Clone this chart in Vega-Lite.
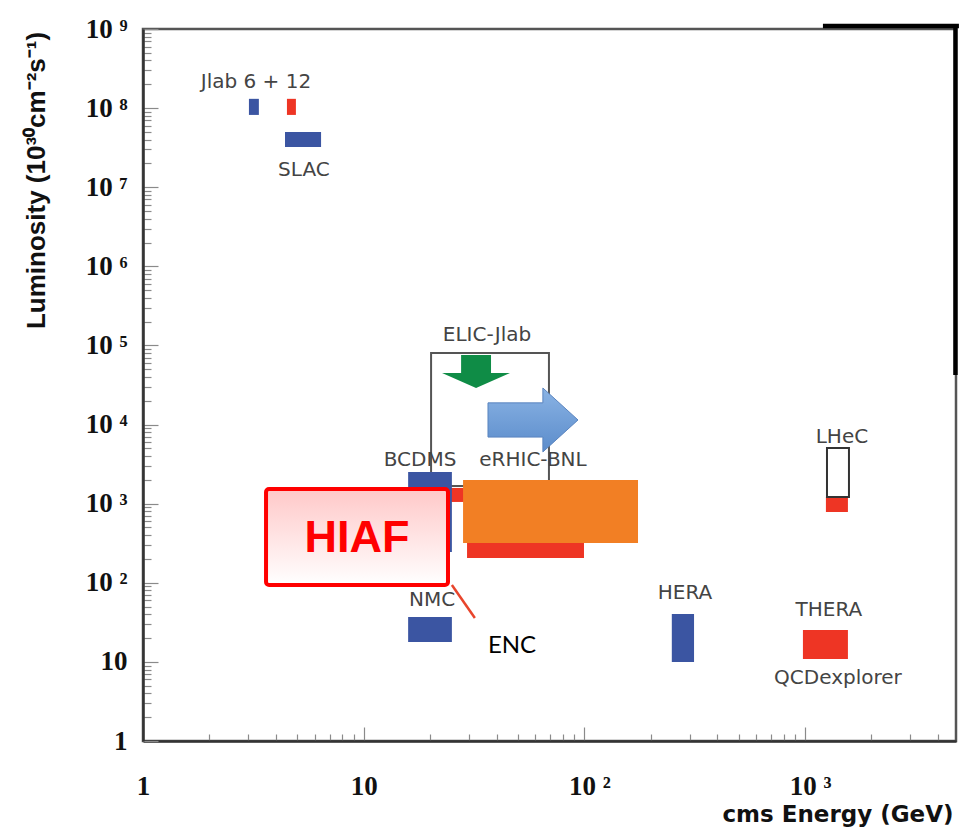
{
  "$schema": "https://vega.github.io/schema/vega-lite/v6.json",
  "width": 813,
  "height": 712,
  "autosize": {"type": "none"},
  "padding": {"left": 143, "top": 29, "right": 3, "bottom": 86},
  "background": "white",
  "config": {
    "view": {"stroke": "#555", "strokeWidth": 2.5},
    "axis": {"grid": false, "domainColor": "#333", "domainWidth": 2.5, "tickColor": "#8a8a8a", "tickWidth": 1.2, "labelColor": "#111", "titleColor": "#111"}
  },
  "encoding": {
    "x": {
      "field": "x",
      "type": "quantitative",
      "scale": {"type": "log", "domain": [1, 4830], "nice": false},
      "axis": {
        "title": "cms Energy  (GeV)",
        "values": [1, 2, 3, 4, 5, 6, 7, 8, 9, 10, 20, 30, 40, 50, 60, 70, 80, 90, 100, 200, 300, 400, 500, 600, 700, 800, 900, 1000, 2000, 3000, 4000],
        "labelExpr": "datum.value == 1 ? '1' : datum.value == 10 ? '10' : datum.value == 100 ? '10\u00a0²' : datum.value == 1000 ? '10\u00a0³' : ''",
        "labelFont": "Liberation Serif",
        "labelFontWeight": "bold",
        "labelFontSize": 27,
        "labelFlush": false,
        "labelOverlap": false,
        "labelBound": false,
        "labelBaseline": "top",
        "labelPadding": 46,
        "labelOffset": {"condition": {"test": "datum.value >= 100", "value": 5}, "value": 0},
        "tickSize": {"condition": {"test": "datum.value == 1 || datum.value == 10 || datum.value == 100 || datum.value == 1000", "value": -14}, "value": -7},
        "titleFont": "DejaVu Sans",
        "titleFontWeight": "bold",
        "titleFontSize": 23,
        "titleAnchor": "end",
        "titleAlign": "right",
        "titleBaseline": "alphabetic",
        "titleX": 810,
        "titleY": 80
      }
    },
    "y": {
      "field": "y",
      "type": "quantitative",
      "scale": {"type": "log", "domain": [1, 1000000000], "nice": false},
      "axis": {
        "title": "Luminosity (10³⁰cm⁻²s⁻¹)",
        "values": [1, 2, 3, 4, 5, 6, 7, 8, 9, 10, 20, 30, 40, 50, 60, 70, 80, 90, 100, 200, 300, 400, 500, 600, 700, 800, 900, 1000, 2000, 3000, 4000, 5000, 6000, 7000, 8000, 9000, 10000, 20000, 30000, 40000, 50000, 60000, 70000, 80000, 90000, 100000, 200000, 300000, 400000, 500000, 600000, 700000, 800000, 900000, 1000000, 2000000, 3000000, 4000000, 5000000, 6000000, 7000000, 8000000, 9000000, 10000000, 20000000, 30000000, 40000000, 50000000, 60000000, 70000000, 80000000, 90000000, 100000000, 200000000, 300000000, 400000000, 500000000, 600000000, 700000000, 800000000, 900000000, 1000000000],
        "labelExpr": "datum.value == 1 ? '1\u00a0\u00a0\u00a0' : datum.value == 10 ? '10\u00a0\u00a0\u00a0' : (abs(log(datum.value)/LN10 - round(log(datum.value)/LN10)) < 0.001 ? '10\u00a0' + ['⁰','¹','²','³','⁴','⁵','⁶','⁷','⁸','⁹'][round(log(datum.value)/LN10)] : '')",
        "labelFont": "Liberation Serif",
        "labelFontWeight": "bold",
        "labelFontSize": 27,
        "labelFlush": false,
        "labelOverlap": false,
        "labelBound": false,
        "labelPadding": 31,
        "tickSize": {"condition": {"test": "abs(log(datum.value)/LN10 - round(log(datum.value)/LN10)) < 0.001", "value": -15}, "value": -8},
        "titleFont": "Liberation Sans",
        "titleFontWeight": "bold",
        "titleFontSize": 26,
        "titleAngle": -90,
        "titleAlign": "center",
        "titleBaseline": "alphabetic",
        "titleX": -99,
        "titleY": 151
      }
    }
  },
  "layer": [
    {
      "data": {"values": [{"name": "ELIC-Jlab", "x": 20.2, "x2": 69.1, "y": 80400, "y2": 1675}]},
      "mark": {"type": "rect", "fill": "white", "fillOpacity": 0, "stroke": "#555", "strokeWidth": 2},
      "encoding": {"x2": {"field": "x2"}, "y2": {"field": "y2"}}
    },
    {
      "data": {"values": [
        {"name": "Jlab 6", "kind": "existing", "x": 3.02, "x2": 3.35, "y": 82000000, "y2": 131000000},
        {"name": "Jlab 12", "kind": "planned", "x": 4.49, "x2": 4.93, "y": 82000000, "y2": 131000000},
        {"name": "SLAC", "kind": "existing", "x": 4.4, "x2": 6.41, "y": 32300000, "y2": 50000000},
        {"name": "ENC", "kind": "planned", "x": 22.2, "x2": 30.3, "y": 1051, "y2": 1580},
        {"name": "eRHIC-BNL", "kind": "planned", "x": 29.4, "x2": 99.6, "y": 206, "y2": 1995},
        {"name": "BCDMS", "kind": "existing", "x": 15.9, "x2": 25.1, "y": 245, "y2": 2520},
        {"name": "NMC", "kind": "existing", "x": 15.9, "x2": 25.1, "y": 17.8, "y2": 37},
        {"name": "HERA", "kind": "existing", "x": 249, "x2": 314, "y": 9.97, "y2": 40.3},
        {"name": "LHeC", "kind": "planned", "x": 1243, "x2": 1564, "y": 785, "y2": 1216},
        {"name": "THERA", "kind": "planned", "x": 978, "x2": 1564, "y": 10.9, "y2": 25.3},
        {"name": "EicC", "kind": "EicC", "x": 28.2, "x2": 175, "y": 318, "y2": 1995}
      ]},
      "mark": {"type": "rect"},
      "encoding": {
        "x2": {"field": "x2"},
        "y2": {"field": "y2"},
        "color": {"field": "kind", "type": "nominal", "scale": {"domain": ["existing", "planned", "EicC"], "range": ["#3B55A2", "#EE3524", "#F27F24"]}, "legend": null}
      }
    },
    {
      "data": {"values": [{"name": "LHeC upgrade", "x": 1257, "x2": 1581, "y": 1216, "y2": 5060}]},
      "mark": {"type": "rect", "fill": "white", "stroke": "#333", "strokeWidth": 2},
      "encoding": {"x2": {"field": "x2"}, "y2": {"field": "y2"}}
    },
    {
      "data": {"values": [{"name": "ELIC upgrade", "x": 32.3, "y": 46900}]},
      "mark": {"type": "point", "filled": true, "opacity": 1, "shape": "M-0.44,-0.485 L0.44,-0.485 L0.44,0.044 L1,0.044 L0,0.485 L-1,0.044 L-0.44,0.044 Z", "size": 4624, "fill": "#0F8C46", "strokeWidth": 0},
      "encoding": {}
    },
    {
      "data": {"values": [{"name": "eRHIC upgrade", "x": 58.5, "y": 11430}]},
      "mark": {"type": "point", "filled": true, "opacity": 1, "shape": "M-1,-0.38 L0.22,-0.38 L0.22,-0.71 L1,0 L0.22,0.71 L0.22,0.38 L-1,0.38 Z", "size": 8100,
        "fill": {"gradient": "linear", "x1": 0, "y1": 0, "x2": 0, "y2": 1, "stops": [{"offset": 0, "color": "#8AB3E4"}, {"offset": 1, "color": "#5B8CCB"}]},
        "stroke": "#5A84BF", "strokeWidth": 1},
      "encoding": {}
    },
    {
      "data": {"values": [{"name": "HIAF", "x": 3.61, "x2": 24.1, "y": 1535, "y2": 93.8}]},
      "mark": {"type": "rect", "cornerRadius": 3, "stroke": "#FF0000", "strokeWidth": 4,
        "fill": {"gradient": "linear", "x1": 0, "y1": 0, "x2": 0, "y2": 1, "stops": [{"offset": 0, "color": "#FFC8C8"}, {"offset": 1, "color": "#FFFFFF"}]}},
      "encoding": {"x2": {"field": "x2"}, "y2": {"field": "y2"}}
    },
    {
      "data": {"values": [{"name": "HIAF-ENC", "x": 25.1, "x2": 31.9, "y": 93.8, "y2": 35.9}]},
      "mark": {"type": "rule", "stroke": "#E8452C", "strokeWidth": 2.5},
      "encoding": {"x2": {"field": "x2"}, "y2": {"field": "y2"}}
    },
    {
      "data": {"values": [
        {"label": "Jlab 6 + 12", "x": 3.25, "y": 214000000},
        {"label": "SLAC", "x": 5.36, "y": 16600000},
        {"label": "ELIC-Jlab", "x": 36.2, "y": 136000},
        {"label": "BCDMS", "x": 18.0, "y": 3570},
        {"label": "eRHIC-BNL", "x": 58.5, "y": 3570},
        {"label": "NMC", "x": 20.4, "y": 60.6},
        {"label": "HERA", "x": 285.6, "y": 74.3},
        {"label": "LHeC", "x": 1469, "y": 6970},
        {"label": "THERA", "x": 1283, "y": 45.3},
        {"label": "QCDexplorer", "x": 1409, "y": 6.26}
      ]},
      "mark": {"type": "text", "font": "DejaVu Sans", "fontSize": 20, "color": "#444", "align": "center", "baseline": "middle"},
      "encoding": {"text": {"field": "label"}}
    },
    {
      "data": {"values": [{"label": "ENC", "x": 47.0, "y": 15.9}]},
      "mark": {"type": "text", "font": "Lato", "fontSize": 24, "color": "#000", "align": "center", "baseline": "middle"},
      "encoding": {"text": {"field": "label"}}
    },
    {
      "data": {"values": [{"label": "HIAF", "x": 9.32, "y": 363}]},
      "mark": {"type": "text", "font": "Liberation Sans", "fontWeight": "bold", "fontSize": 45, "color": "#FF0000", "align": "center", "baseline": "middle"},
      "encoding": {"text": {"field": "label"}}
    },
    {
      "data": {"values": [
        {"part": "top", "x": 1205, "x2": 4980, "y": 1094000000, "y2": 1094000000},
        {"part": "right", "x": 4803, "x2": 4803, "y": 1100000000, "y2": 42400}
      ]},
      "mark": {"type": "rule", "stroke": "#000", "strokeWidth": 4.5},
      "encoding": {"x2": {"field": "x2"}, "y2": {"field": "y2"}}
    }
  ]
}
